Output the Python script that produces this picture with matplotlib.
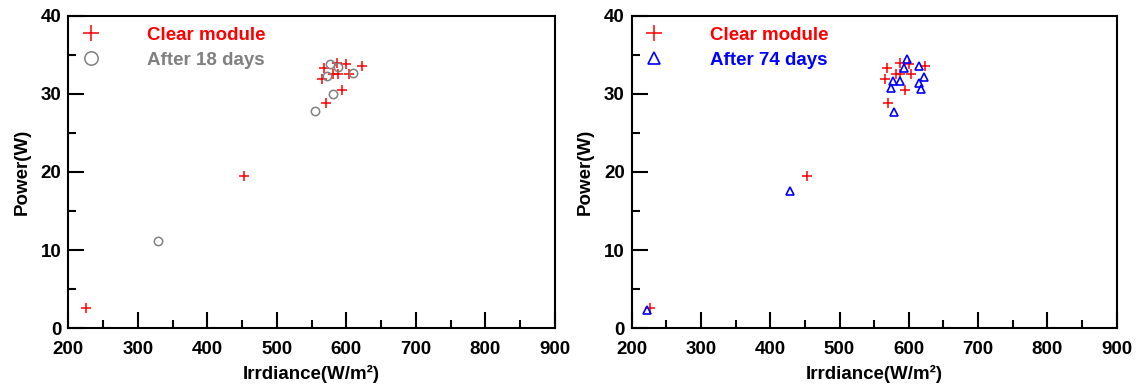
import numpy as np
import matplotlib
matplotlib.use('Agg')
import matplotlib.pyplot as plt
from matplotlib.ticker import MultipleLocator

plt.rcParams['font.family'] = ['Liberation Sans', 'DejaVu Sans']
plt.rcParams['font.weight'] = 'bold'

# Clear module (same in both panels)
clear_x = [226, 453, 587, 600, 623, 568, 581, 588, 603, 565, 594, 570]
clear_y = [2.6, 19.5, 34.0, 33.8, 33.6, 33.3, 32.6, 32.6, 32.5, 31.9, 30.5, 28.8]

# After 18 days
d18_x = [329, 555, 577, 588, 610, 572, 580]
d18_y = [11.2, 27.8, 33.8, 33.4, 32.7, 32.3, 30.0]

# After 74 days
d74_x = [222, 428, 597, 593, 615, 622, 577, 587, 615, 574, 617, 578]
d74_y = [2.4, 17.6, 34.5, 33.3, 33.6, 32.2, 31.6, 31.7, 31.4, 30.8, 30.6, 27.7]

fig = plt.figure(figsize=(11.42, 3.85), dpi=100)
ax1 = fig.add_axes([0.0598, 0.1473, 0.4262, 0.812])
ax2 = fig.add_axes([0.5531, 0.1473, 0.4247, 0.812])


def style(ax):
    ax.set_xlim(200, 900)
    ax.set_ylim(0, 40)
    ax.xaxis.set_major_locator(MultipleLocator(100))
    ax.xaxis.set_minor_locator(MultipleLocator(50))
    ax.yaxis.set_major_locator(MultipleLocator(10))
    ax.yaxis.set_minor_locator(MultipleLocator(5))
    ax.tick_params(which='both', direction='in', width=1.5, labelsize=13.5)
    ax.tick_params(which='major', length=11.5)
    ax.tick_params(which='minor', length=5.8)
    ax.tick_params(axis='y', pad=5)
    ax.tick_params(axis='x', pad=9)
    for s in ax.spines.values():
        s.set_linewidth(1.5)
    ax.set_xlabel('Irrdiance(W/m²)', fontsize=13.5, fontweight='bold', labelpad=5)
    ax.set_ylabel('Power(W)', fontsize=13.5, fontweight='bold', labelpad=7)


leg_kw = dict(loc='upper left', frameon=False, markerscale=1.6,
              handlelength=1.2, handletextpad=2.4, borderaxespad=0.4,
              borderpad=0.2, labelspacing=0.4,
              prop={'weight': 'bold', 'size': 13.5})

# panel 1
ax1.plot(clear_x, clear_y, '+', color='red', markersize=7, mew=1.1,
         label='Clear module')
ax1.plot(d18_x, d18_y, 'o', mfc='none', mec='gray', markersize=6, mew=1.1,
         label='After 18 days')
style(ax1)
ax1.legend(labelcolor=['red', 'gray'], **leg_kw)

# panel 2
ax2.plot(clear_x, clear_y, '+', color='red', markersize=7, mew=1.1,
         label='Clear module')
ax2.plot(d74_x, d74_y, '^', mfc='none', mec='blue', markersize=5.5, mew=1.2,
         label='After 74 days')
style(ax2)
ax2.legend(labelcolor=['red', 'blue'], **leg_kw)

fig.savefig('out.png', dpi=100)
